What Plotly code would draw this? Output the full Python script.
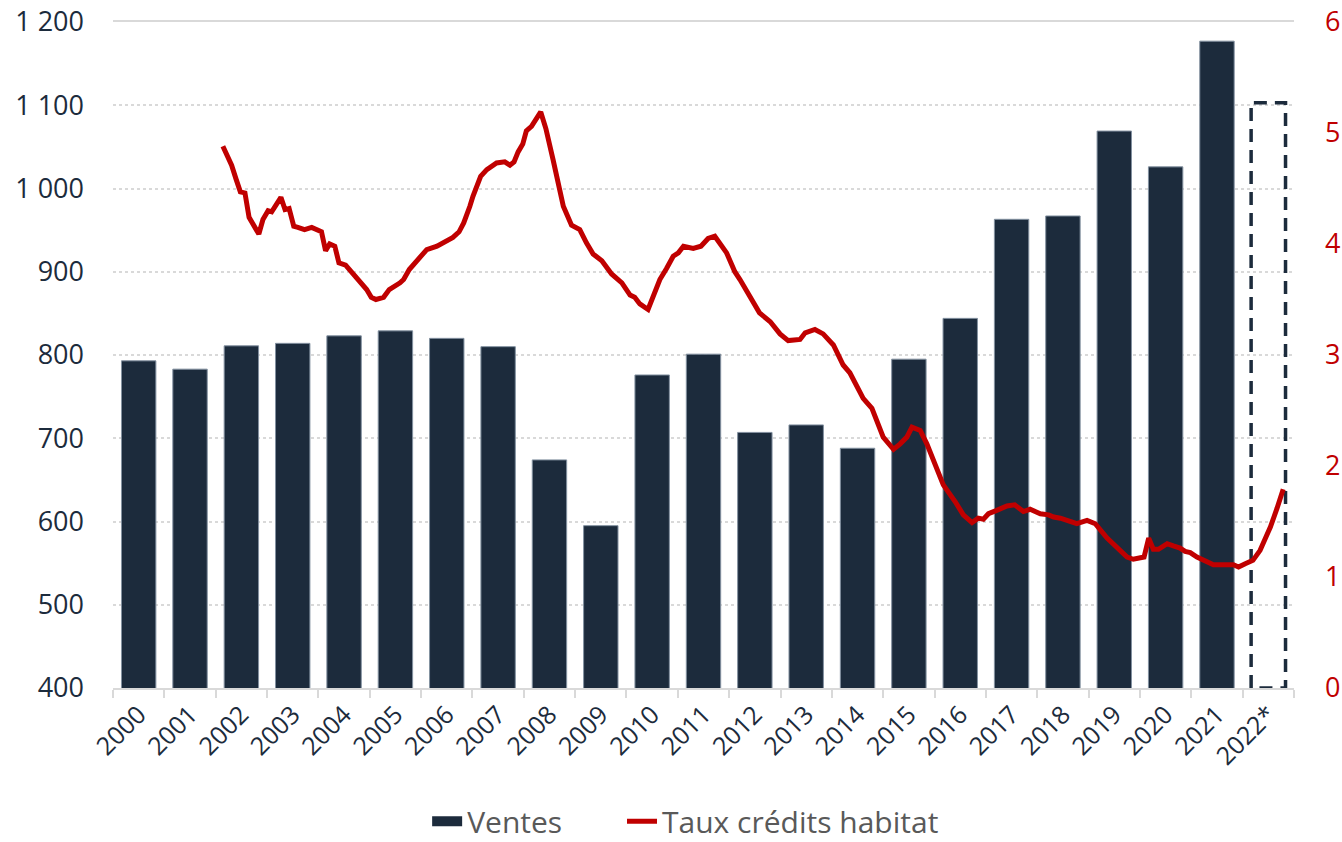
import plotly.graph_objects as go

# ---------------- data ----------------
years = ["2000", "2001", "2002", "2003", "2004", "2005", "2006", "2007", "2008", "2009", "2010",
         "2011", "2012", "2013", "2014", "2015", "2016", "2017", "2018", "2019", "2020", "2021"]
ventes = [793, 783, 811, 814, 823, 829, 820, 810, 674, 595, 776,
          801, 707, 716, 688, 795, 844, 963, 967, 1069, 1026, 1177]
forecast_label = "2022*"
forecast_value = 1103

# mortgage rate (%), time in decimal years
rate_t = [2002.14, 2002.31, 2002.40, 2002.48, 2002.57, 2002.65, 2002.84, 2002.92, 2003.02, 2003.09,
          2003.27, 2003.35, 2003.43, 2003.52, 2003.60, 2003.73, 2003.87, 2003.96, 2004.06, 2004.14,
          2004.22, 2004.32, 2004.40, 2004.53, 2004.68, 2004.87, 2004.94, 2005.03, 2005.12, 2005.27,
          2005.38, 2005.59, 2005.66, 2005.77, 2005.98, 2006.11, 2006.31, 2006.43, 2006.62, 2006.74,
          2006.83, 2006.95, 2007.01, 2007.16, 2007.28, 2007.47, 2007.63, 2007.73, 2007.81, 2007.89,
          2007.98, 2008.05, 2008.15, 2008.33, 2008.43, 2008.57, 2008.69, 2008.77, 2008.93, 2009.09,
          2009.22, 2009.35, 2009.52, 2009.71, 2009.91, 2010.07, 2010.16, 2010.26, 2010.42, 2010.52,
          2010.65, 2010.78, 2010.91, 2011.01, 2011.11, 2011.30, 2011.45, 2011.59, 2011.72, 2011.95,
          2012.11, 2012.21, 2012.41, 2012.59, 2012.80, 2012.99, 2013.15, 2013.38, 2013.48, 2013.67,
          2013.83, 2014.03, 2014.22, 2014.35, 2014.61, 2014.78, 2015.00, 2015.20, 2015.33, 2015.46,
          2015.56, 2015.72, 2015.85, 2016.01, 2016.17, 2016.40, 2016.56, 2016.73, 2016.85, 2016.95,
          2017.05, 2017.21, 2017.41, 2017.56, 2017.73, 2017.86, 2018.06, 2018.22, 2018.32, 2018.45,
          2018.61, 2018.77, 2018.97, 2019.13, 2019.36, 2019.55, 2019.75, 2019.87, 2020.08, 2020.17,
          2020.26, 2020.36, 2020.53, 2020.65, 2020.78, 2020.88, 2020.98, 2021.11, 2021.27, 2021.43,
          2021.82, 2021.92, 2022.05, 2022.20, 2022.34, 2022.54, 2022.67, 2022.79]
rate_val = [4.88, 4.71, 4.58, 4.47, 4.46, 4.24, 4.09, 4.22, 4.30, 4.29,
            4.42, 4.31, 4.32, 4.16, 4.15, 4.13, 4.15, 4.13, 4.11, 3.94,
            4.00, 3.98, 3.83, 3.81, 3.73, 3.62, 3.59, 3.52, 3.50, 3.52,
            3.59, 3.65, 3.68, 3.77, 3.89, 3.95, 3.98, 4.01, 4.06, 4.11,
            4.19, 4.34, 4.43, 4.61, 4.67, 4.73, 4.74, 4.71, 4.74, 4.83,
            4.90, 5.02, 5.06, 5.19, 5.04, 4.76, 4.53, 4.34, 4.17, 4.13,
            4.01, 3.91, 3.85, 3.73, 3.65, 3.54, 3.52, 3.46, 3.41, 3.53,
            3.68, 3.78, 3.89, 3.92, 3.98, 3.96, 3.98, 4.05, 4.07, 3.92,
            3.75, 3.68, 3.51, 3.38, 3.30, 3.19, 3.13, 3.14, 3.20, 3.23,
            3.19, 3.09, 2.91, 2.84, 2.61, 2.52, 2.26, 2.15, 2.20, 2.26,
            2.35, 2.32, 2.20, 2.02, 1.83, 1.68, 1.56, 1.49, 1.53, 1.52,
            1.57, 1.60, 1.64, 1.65, 1.59, 1.61, 1.57, 1.56, 1.54, 1.53,
            1.50, 1.48, 1.51, 1.48, 1.35, 1.26, 1.18, 1.16, 1.18, 1.35,
            1.25, 1.25, 1.30, 1.28, 1.26, 1.23, 1.22, 1.18, 1.14, 1.11,
            1.11, 1.09, 1.12, 1.15, 1.24, 1.45, 1.62, 1.79]

left_ticks = [400, 500, 600, 700, 800, 900, 1000, 1100, 1200]
left_ticktext = ["400", "500", "600", "700", "800", "900", "1 000", "1 100", "1 200"]
right_ticks = [0, 1, 2, 3, 4, 5, 6]

# ---------------- styles ----------------
NAVY = "#1c2b3c"
RED = "#c00000"
GRID = "#d9d9d9"
FONT = "Open Sans, Liberation Sans, sans-serif"
BAR_W = 0.67

labels = years + [forecast_label]
positions = list(range(len(labels)))
bar_x = positions[:len(years)]
fc_x = positions[-1]
first_year = int(years[0])
rate_x = [t - first_year - 0.5 for t in rate_t]

fig = go.Figure()

fig.add_trace(go.Bar(
    x=bar_x, y=ventes, name="Ventes", width=BAR_W, showlegend=False,
    marker=dict(color=NAVY, line=dict(color="#8391a0", width=1)),
    yaxis="y",
))
# legend proxy for the bars (wide rectangle swatch)
fig.add_trace(go.Scatter(
    x=[None], y=[None], name="Ventes", mode="lines", legend="legend",
    line=dict(color=NAVY, width=22), yaxis="y", hoverinfo="skip",
))

# forecast bar drawn as dashed outline
fx0, fx1 = fc_x - BAR_W / 2, fc_x + BAR_W / 2
y_base = left_ticks[0]
fig.add_trace(go.Scatter(
    x=[fx0, fx0, fx1, fx1, fx0], y=[y_base, forecast_value, forecast_value, y_base, y_base],
    mode="lines", line=dict(color=NAVY, width=3.5, dash="13px,8px"),
    showlegend=False, hoverinfo="skip", yaxis="y", cliponaxis=False,
))

fig.add_trace(go.Scatter(
    x=rate_x, y=rate_val, name="Taux crédits habitat", mode="lines", legend="legend2",
    line=dict(color=RED, width=5), yaxis="y2",
))

legend_common = dict(orientation="h", xanchor="left", y=-0.2, yanchor="middle",
                     font=dict(size=30, color="#595959"), bgcolor="rgba(0,0,0,0)")

fig.update_layout(
    width=1342, height=842,
    margin=dict(l=113, r=48, t=22, b=154, autoexpand=False),
    paper_bgcolor="white", plot_bgcolor="white",
    font=dict(family=FONT, color=NAVY),
    showlegend=True,
    legend=dict(x=0.266, **legend_common),
    legend2=dict(x=0.431, **legend_common),
    bargap=0.33,
    xaxis=dict(
        range=[-0.5, len(labels) - 0.5], automargin=False,
        tickmode="array", tickvals=positions, ticktext=labels,
        tickangle=-45, tickfont=dict(size=25, color=NAVY),
        ticks="", showgrid=False, zeroline=False,
        showline=True, linecolor=GRID, linewidth=2, mirror=True,
        minor=dict(tickmode="array", tickvals=[p - 0.5 for p in positions] + [positions[-1] + 0.5],
                   ticks="outside", ticklen=8, tickcolor=GRID, tickwidth=2, showgrid=False),
    ),
    yaxis=dict(
        range=[left_ticks[0], left_ticks[-1]], automargin=False, ticklabeloverflow="allow",
        tickmode="array", tickvals=left_ticks, ticktext=left_ticktext,
        tickfont=dict(size=27, color=NAVY),
        showgrid=True, gridcolor=GRID, griddash="dot", gridwidth=1.5,
        zeroline=False, showline=False, ticks="", ticklabelstandoff=28,
    ),
    yaxis2=dict(
        range=[right_ticks[0], right_ticks[-1]], overlaying="y", side="right", automargin=False,
        ticklabeloverflow="allow",
        tickmode="array", tickvals=right_ticks,
        tickfont=dict(size=27, color=RED),
        showgrid=False, zeroline=False, showline=False, ticks="", ticklabelstandoff=30,
    ),
)

fig.write_html("out.html", config={"displayModeBar": False},
               post_script="document.body.style.margin='0';")
